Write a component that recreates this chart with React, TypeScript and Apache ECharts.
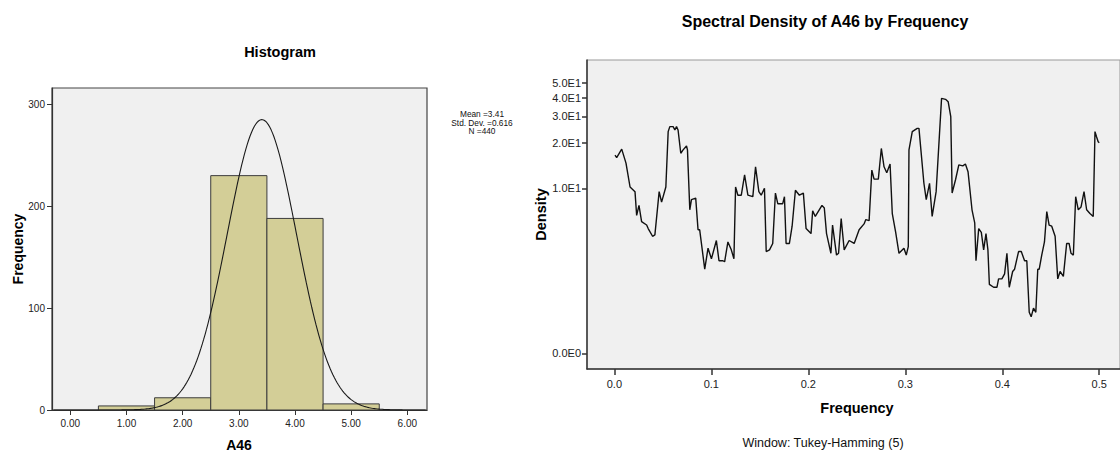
import React, { useEffect, useRef } from "react";
import * as echarts from "echarts";

// Histogram of A46
const binStarts = [0.5, 1.5, 2.5, 3.5, 4.5];
const binEnds = [1.5, 2.5, 3.5, 4.5, 5.5];
const binCounts = [4, 12, 230, 188, 6];
const meanA46 = 3.41;
const sdA46 = 0.616;
const nA46 = 440;
const histXTicks = [0, 1, 2, 3, 4, 5, 6];
const histYTicks = [0, 100, 200, 300];

// Spectral density (Tukey-Hamming window, span 5)
const spectralFreq = [
  0.0007, 0.0024, 0.0076, 0.012, 0.0162, 0.0213, 0.023, 0.0254, 0.0281, 0.0333,
  0.0349, 0.0394, 0.0418, 0.0462, 0.0487, 0.0531, 0.0555, 0.0572, 0.0606, 0.0624,
  0.0641, 0.0657, 0.0685, 0.0709, 0.0744, 0.0754, 0.0778, 0.0795, 0.0839, 0.0863,
  0.088, 0.0932, 0.0966, 0.1001, 0.1052, 0.1079, 0.112, 0.1137, 0.1171, 0.1206,
  0.1233, 0.125, 0.1274, 0.1309, 0.1343, 0.1377, 0.1428, 0.1456, 0.149, 0.1514,
  0.1548, 0.1566, 0.16, 0.1633, 0.1661, 0.1685, 0.1736, 0.1754, 0.1771, 0.1805,
  0.1833, 0.1867, 0.1908, 0.1949, 0.1977, 0.2028, 0.2045, 0.2072, 0.2141, 0.2165,
  0.2188, 0.2233, 0.225, 0.2291, 0.2312, 0.2339, 0.237, 0.2421, 0.2473, 0.2524,
  0.2575, 0.2593, 0.2627, 0.2655, 0.2678, 0.2722, 0.2753, 0.2781, 0.2809, 0.2843,
  0.2866, 0.2901, 0.2935, 0.2986, 0.301, 0.3031, 0.3038, 0.3072, 0.3123, 0.3141,
  0.3192, 0.3216, 0.325, 0.3277, 0.3318, 0.3374, 0.3415, 0.3442, 0.3469, 0.3483,
  0.3518, 0.3552, 0.3593, 0.362, 0.3647, 0.3688, 0.3716, 0.3729, 0.3757, 0.3784,
  0.3808, 0.3832, 0.3852, 0.3867, 0.3911, 0.3945, 0.3962, 0.3996, 0.4024, 0.4048,
  0.4072, 0.4107, 0.4127, 0.4168, 0.4196, 0.423, 0.4253, 0.4278, 0.4298, 0.4322,
  0.4346, 0.4366, 0.4381, 0.4407, 0.4435, 0.4459, 0.4483, 0.451, 0.4545, 0.4572,
  0.4596, 0.463, 0.4664, 0.4689, 0.4709, 0.4733, 0.4757, 0.4784, 0.4812, 0.4843,
  0.487, 0.4904, 0.4938, 0.4956, 0.4972, 0.4989, 0.5,
];
const spectralDensity = [
  16.6, 16.0, 18.2, 14.7, 10.2, 9.5, 6.6, 7.7, 6.0, 5.7,
  5.4, 4.8, 4.9, 9.5, 8.1, 10.2, 23.8, 25.7, 25.7, 24.4,
  25.7, 24.4, 17.1, 18.0, 19.1, 18.0, 7.2, 8.4, 8.6, 5.3,
  5.3, 2.9, 4.0, 3.4, 4.5, 3.3, 3.3, 3.25, 4.4, 3.9,
  3.4, 10.2, 9.0, 9.0, 12.3, 9.0, 8.8, 13.9, 9.5, 9.0,
  10.0, 3.8, 3.9, 4.3, 9.3, 7.9, 7.9, 8.8, 4.3, 4.3,
  5.6, 9.7, 9.0, 9.3, 5.4, 5.0, 7.1, 6.5, 7.7, 7.4,
  5.0, 3.7, 5.7, 3.6, 3.7, 6.3, 3.9, 4.5, 4.3, 5.3,
  5.8, 6.2, 6.1, 13.2, 11.5, 11.5, 18.4, 13.9, 12.7, 14.5,
  6.8, 5.1, 3.7, 4.0, 3.6, 4.1, 18.0, 23.8, 25.0, 25.0,
  10.8, 8.4, 10.8, 6.5, 9.5, 39.6, 39.0, 37.6, 29.9, 9.3,
  11.4, 14.3, 14.1, 14.5, 12.9, 7.2, 5.9, 3.3, 5.4, 5.1,
  3.9, 5.0, 3.9, 2.3, 2.2, 2.2, 2.5, 2.5, 2.7, 3.7,
  2.2, 2.8, 2.9, 3.8, 3.8, 3.3, 3.3, 1.5, 1.4, 1.6,
  1.5, 2.9, 2.9, 3.6, 4.4, 7.0, 5.7, 5.6, 4.8, 2.5,
  2.8, 2.6, 4.3, 4.3, 3.7, 3.6, 8.8, 7.2, 7.5, 9.5,
  7.2, 6.8, 6.5, 23.8, 22.0, 20.4, 20.1,
];
const densityTicks = [0.8, 10, 20, 30, 40, 50];
const freqTicks = [0, 0.1, 0.2, 0.3, 0.4, 0.5];

const FONT = '"Liberation Sans", Arial, sans-serif';

// Normal curve fitted with the reported mean / std. dev., scaled to counts
function normalFit(): number[][] {
  const width = binEnds[0] - binStarts[0];
  const pts: number[][] = [];
  for (let x = -0.3; x <= 6.35; x += 0.025) {
    const z = (x - meanA46) / sdA46;
    const y = (nA46 * width * Math.exp(-0.5 * z * z)) / (sdA46 * Math.sqrt(2 * Math.PI));
    pts.push([x, y]);
  }
  return pts;
}

function densityLabel(v: number): string {
  if (v < 1) return "0.0E0";
  return (v / 10).toFixed(1) + "E1";
}

export default function App() {
  const ref = useRef<HTMLDivElement>(null);

  useEffect(() => {
    if (!ref.current) return;
    const chart = echarts.init(ref.current, null, { renderer: "svg" });

    const tickLabel = { fontFamily: FONT, color: "#222" };

    const option: any = {
      animation: false,
      backgroundColor: "#ffffff",
      grid: [
        {
          left: 52,
          top: 88,
          width: 375,
          height: 322,
          show: true,
          backgroundColor: "#f0f0f0",
          borderColor: "#444",
          borderWidth: 1.2,
        },
        {
          left: 587,
          top: 60,
          width: 535,
          height: 309,
          show: true,
          backgroundColor: "#f0f0f0",
          borderColor: "#999",
          borderWidth: 1,
        },
      ],
      xAxis: [
        {
          gridIndex: 0,
          type: "value",
          min: -0.326,
          max: 6.35,
          splitLine: { show: false },
          axisLine: { show: true, onZero: false, lineStyle: { color: "#333", width: 1.2 } },
          axisTick: { show: true, length: 5, customValues: histXTicks, lineStyle: { color: "#333" } },
          axisLabel: {
            ...tickLabel,
            fontSize: 10,
            margin: 8,
            customValues: histXTicks,
            formatter: (v: number) => v.toFixed(2),
          },
        },
        {
          gridIndex: 1,
          type: "value",
          min: -0.0282,
          max: 0.5214,
          splitLine: { show: false },
          axisLine: { show: true, onZero: false, lineStyle: { color: "#333", width: 1.5 } },
          axisTick: { show: true, length: 6, customValues: freqTicks, lineStyle: { color: "#333", width: 1.5 } },
          axisLabel: {
            ...tickLabel,
            fontSize: 11,
            margin: 9,
            customValues: freqTicks,
            formatter: (v: number) => v.toFixed(1),
          },
        },
      ],
      yAxis: [
        {
          gridIndex: 0,
          type: "value",
          min: 0,
          max: 316,
          splitLine: { show: false },
          axisLine: { show: true, onZero: false, lineStyle: { color: "#333", width: 1.2 } },
          axisTick: { show: true, length: 5, customValues: histYTicks, lineStyle: { color: "#333" } },
          axisLabel: {
            ...tickLabel,
            fontSize: 10,
            margin: 7,
            customValues: histYTicks,
          },
        },
        {
          gridIndex: 1,
          type: "log",
          logBase: 10,
          min: 0.63,
          max: 71.2,
          splitLine: { show: false },
          axisLine: { show: true, onZero: false, lineStyle: { color: "#333", width: 1.5 } },
          axisTick: { show: true, length: 5, customValues: densityTicks, lineStyle: { color: "#333", width: 1.5 } },
          axisLabel: {
            ...tickLabel,
            fontSize: 11,
            margin: 6,
            customValues: densityTicks,
            formatter: densityLabel,
          },
        },
      ],
      series: [
        {
          type: "custom",
          xAxisIndex: 0,
          yAxisIndex: 0,
          data: binCounts.map((c, i) => [binStarts[i], binEnds[i], c]),
          encode: { x: [0, 1], y: 2 },
          renderItem: (_params: any, api: any) => {
            const topLeft = api.coord([api.value(0), api.value(2)]);
            const bottomRight = api.coord([api.value(1), 0]);
            return {
              type: "rect",
              shape: {
                x: topLeft[0],
                y: topLeft[1],
                width: bottomRight[0] - topLeft[0],
                height: bottomRight[1] - topLeft[1],
              },
              style: { fill: "#d3ce97", stroke: "#3c3c3c", lineWidth: 1 },
            };
          },
        },
        {
          type: "line",
          xAxisIndex: 0,
          yAxisIndex: 0,
          data: normalFit(),
          showSymbol: false,
          smooth: false,
          lineStyle: { color: "#1a1a1a", width: 1.1 },
        },
        {
          type: "line",
          xAxisIndex: 1,
          yAxisIndex: 1,
          data: spectralFreq.map((f, i) => [f, spectralDensity[i]]),
          showSymbol: false,
          lineStyle: { color: "#111", width: 1.4 },
        },
      ],
      graphic: [
        {
          type: "text",
          x: 280,
          y: 52,
          style: {
            text: "Histogram",
            font: `bold 14.5px ${FONT}`,
            fill: "#000",
            textAlign: "center",
            textVerticalAlign: "middle",
          },
        },
        {
          type: "text",
          x: 17.5,
          y: 249,
          rotation: Math.PI / 2,
          style: {
            text: "Frequency",
            font: `bold 14px ${FONT}`,
            fill: "#000",
            textAlign: "center",
            textVerticalAlign: "middle",
          },
        },
        {
          type: "text",
          x: 239,
          y: 445,
          style: {
            text: "A46",
            font: `bold 14px ${FONT}`,
            fill: "#000",
            textAlign: "center",
            textVerticalAlign: "middle",
          },
        },
        {
          type: "text",
          x: 482,
          y: 122.5,
          style: {
            text: `Mean =${meanA46}\nStd. Dev. =${sdA46}\nN =${nA46}`,
            font: `8.3px ${FONT}`,
            lineHeight: 8.5,
            fill: "#111",
            textAlign: "center",
            textVerticalAlign: "middle",
          },
        },
        {
          type: "text",
          x: 825,
          y: 21,
          style: {
            text: "Spectral Density of A46 by Frequency",
            font: `bold 16px ${FONT}`,
            fill: "#000",
            textAlign: "center",
            textVerticalAlign: "middle",
          },
        },
        {
          type: "text",
          x: 541,
          y: 214.5,
          rotation: Math.PI / 2,
          style: {
            text: "Density",
            font: `bold 14.5px ${FONT}`,
            fill: "#000",
            textAlign: "center",
            textVerticalAlign: "middle",
          },
        },
        {
          type: "text",
          x: 857,
          y: 408,
          style: {
            text: "Frequency",
            font: `bold 14.5px ${FONT}`,
            fill: "#000",
            textAlign: "center",
            textVerticalAlign: "middle",
          },
        },
        {
          type: "text",
          x: 823,
          y: 443,
          style: {
            text: "Window: Tukey-Hamming (5)",
            font: `12.5px ${FONT}`,
            fill: "#111",
            textAlign: "center",
            textVerticalAlign: "middle",
          },
        },
      ],
    };

    chart.setOption(option);
    return () => chart.dispose();
  }, []);

  return (
    <div
      ref={ref}
      style={{ position: "absolute", left: 0, top: 0, width: 1120, height: 453 }}
    />
  );
}
